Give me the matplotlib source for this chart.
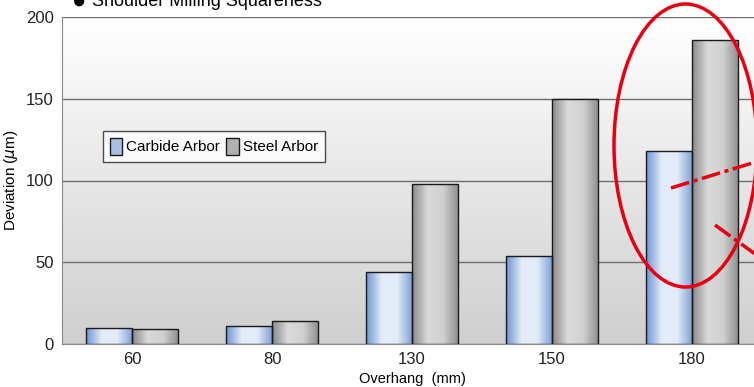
import matplotlib.pyplot as plt
import numpy as np
from matplotlib.colors import LinearSegmentedColormap
from matplotlib.patches import Ellipse, Patch

# deviation data
overhang = ['60', '80', '130', '150', '180']
carbide = [10, 11, 44, 54, 118]
steel = [9, 14, 98, 150, 186]

plt.rcParams['font.family'] = ['Liberation Sans', 'DejaVu Sans']

blue_cmap = LinearSegmentedColormap.from_list(
    'blue_bar', ['#6f96d2', '#e3ebf8', '#e3ebf8', '#7d9fd6'])
gray_cmap = LinearSegmentedColormap.from_list(
    'gray_bar', ['#8a8a8a', '#dadada', '#d0d0d0', '#8e8e8e'])
bg_cmap = LinearSegmentedColormap.from_list('bg', ['#ffffff', '#cfcfcf'])

fig = plt.figure(figsize=(7.54, 3.87), dpi=100)
ax = fig.add_axes([62 / 754, 43 / 387, 700 / 754, 327 / 387])

x = np.arange(len(overhang))
w = 0.33
ramp = np.linspace(0, 1, 64).reshape(1, -1)


def gradient_bars(xs, vals, cmap):
    bars = ax.bar(xs, vals, w, facecolor='none', edgecolor='#1a1a1a',
                  linewidth=1.0, zorder=4)
    for b in bars:
        x0, y0 = b.get_x(), b.get_y()
        im = ax.imshow(ramp, cmap=cmap, aspect='auto', zorder=3,
                       extent=[x0, x0 + b.get_width(), y0, y0 + b.get_height()])
        im.set_clip_path(b)
    return bars


gradient_bars(x - w / 2, carbide, blue_cmap)
gradient_bars(x + w / 2, steel, gray_cmap)

# background shading, white at the top
ax.imshow(np.linspace(0, 1, 128).reshape(-1, 1), cmap=bg_cmap, aspect='auto',
          extent=[-0.5, len(overhang) - 0.5, 0, 200], origin='upper', zorder=0)

ax.set_xlim(-0.5, len(overhang) - 0.5)
ax.set_ylim(0, 200)
ax.set_yticks([0, 50, 100, 150, 200])
ax.yaxis.grid(True, color='#6e6e6e', linewidth=1.0, zorder=1)
ax.set_axisbelow(True)
ax.set_xticks(x)
ax.set_xticklabels(overhang)
ax.tick_params(length=0, labelsize=12, colors='#222222', pad=6)
for s in ['top', 'right']:
    ax.spines[s].set_visible(False)
for s in ['left', 'bottom']:
    ax.spines[s].set_color('#8a8a8a')

ax.set_ylabel(r'Deviation ($\mu$m)', fontsize=11, labelpad=4)
ax.set_xlabel('Overhang  (mm)', fontsize=10.5, labelpad=3)

fig.text(72 / 754, 0.995, '\u25cf', fontsize=17, va='center', ha='left')
fig.text(92 / 754, 0.995, 'Shoulder Milling Squareness', fontsize=13,
         va='center', ha='left')

# legend with gradient swatches drawn as plain fills
handles = [Patch(facecolor='#a9c1e8', edgecolor='#1a1a1a'),
           Patch(facecolor='#b0b0b0', edgecolor='#1a1a1a')]
leg = ax.legend(handles, ['Carbide Arbor', 'Steel Arbor'], ncol=2,
                loc='upper left', bbox_to_anchor=(33 / 700, 221 / 327),
                frameon=True, fancybox=False, edgecolor='#222222',
                fontsize=11, handlelength=0.8, handleheight=1.4,
                handletextpad=0.3, columnspacing=0.4, borderpad=0.45)
leg.get_frame().set_linewidth(1.0)
leg.set_zorder(6)

# red highlight around the last group
dash = (0, (5.5, 1.3, 1.2, 1.3))
ax.add_patch(Ellipse((623.5 / 700, 198.5 / 327), 143 / 700, 283 / 327,
                     transform=ax.transAxes, fill=False,
                     edgecolor='#e60012', linewidth=2.5, zorder=7,
                     clip_on=False))
ax.plot([609 / 700, 700 / 700], [156 / 327, 184 / 327], color='#e60012',
        linewidth=2.5, linestyle=dash, transform=ax.transAxes,
        zorder=7, clip_on=False)
ax.plot([653 / 700, 700 / 700], [119 / 327, 85 / 327], color='#e60012',
        linewidth=2.5, linestyle=dash, transform=ax.transAxes,
        zorder=7, clip_on=False)

plt.savefig('out.png', dpi=100)
